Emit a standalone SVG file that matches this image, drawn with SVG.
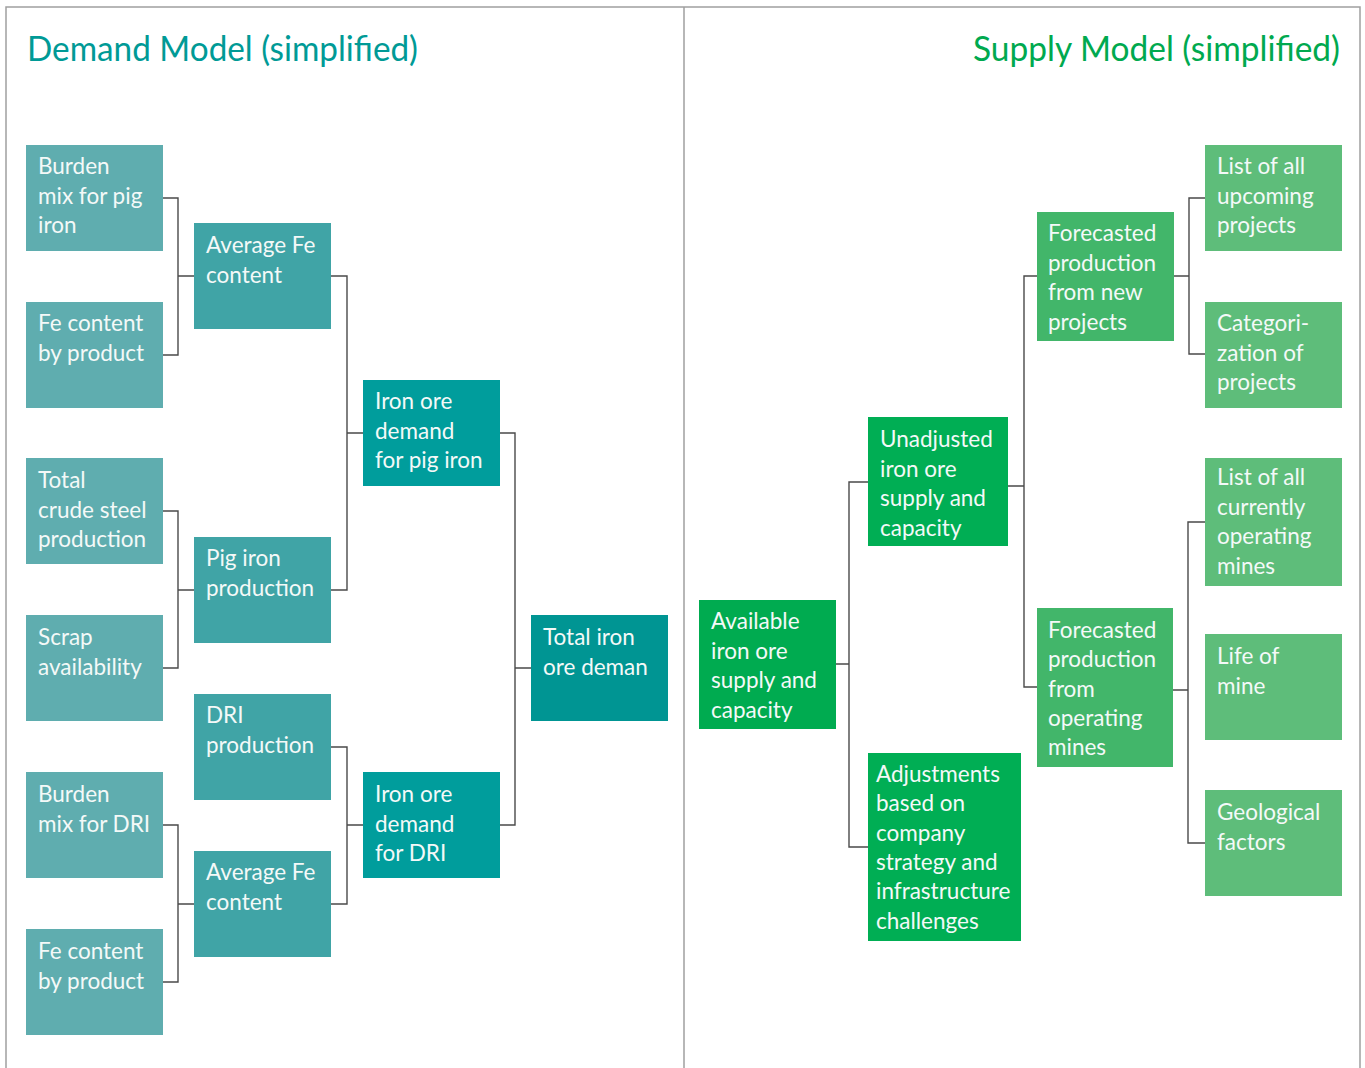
<svg xmlns="http://www.w3.org/2000/svg" width="1365" height="1068" viewBox="0 0 1365 1068">
<style>
text{font-family:Lato,"Source Sans Pro","Noto Sans",sans-serif;fill:#f4f9f8;font-size:22.5px}
.title{font-size:34px}
.d1{fill:#5fadaf}.d2{fill:#40a4a6}.d3{fill:#009d9c}.d4{fill:#009593}
.s1{fill:#00ab50}.s2{fill:#00ae54}.s3{fill:#42b66a}.s4{fill:#5ebd7a}
.frame{fill:none;stroke:#a0a0a0;stroke-width:1.5}
.conn path{fill:none;stroke:#4a4a4a;stroke-width:1.4}
</style>
<rect width="1365" height="1068" fill="#fff"/>
<g id="frame">
<path class="frame" d="M6,1068 V7 H1360 V1068 M684,7 V1068"/>
</g>
<text class="title" x="27" y="61" textLength="391" lengthAdjust="spacingAndGlyphs" style="fill:#009a96">Demand Model (simplified)</text>
<text class="title" x="973" y="61" textLength="367" lengthAdjust="spacingAndGlyphs" style="fill:#00a94f">Supply Model (simplified)</text>

<g class="conn" id="connectors">
<path d="M163,198 H178 V355 H163 M178,276 H194"/>
<path d="M163,511 H178 V668 H163 M178,590 H194"/>
<path d="M163,825 H178 V982 H163 M178,904 H194"/>
<path d="M331,276 H347 V590 H331 M347,433 H363"/>
<path d="M331,747 H347 V904 H331 M347,825 H363"/>
<path d="M500,433 H515 V825 H500 M515,668 H531"/>
<path d="M836,664 H849 M868,482 H849 V847 H868"/>
<path d="M1008,486 H1024 M1037,276 H1024 V687 H1037"/>
<path d="M1174,276 H1189 M1205,198 H1189 V354 H1205"/>
<path d="M1173,690 H1188 M1205,522 H1188 V843 H1205"/>
</g>

<g id="d-burden-pig"><rect class="d1" x="26" y="145" width="137" height="106"/><text x="38" y="174">Burden<tspan x="38" dy="29.5">mix for pig</tspan><tspan x="38" dy="29.5">iron</tspan></text></g>
<g id="d-fe-1"><rect class="d1" x="26" y="302" width="137" height="106"/><text x="38" y="331">Fe content<tspan x="38" dy="29.5">by product</tspan></text></g>
<g id="d-crude"><rect class="d1" x="26" y="458" width="137" height="106"/><text x="38" y="488">Total<tspan x="38" dy="29.5">crude steel</tspan><tspan x="38" dy="29.5">production</tspan></text></g>
<g id="d-scrap"><rect class="d1" x="26" y="615" width="137" height="106"/><text x="38" y="645">Scrap<tspan x="38" dy="29.5">availability</tspan></text></g>
<g id="d-burden-dri"><rect class="d1" x="26" y="772" width="137" height="106"/><text x="38" y="802">Burden<tspan x="38" dy="29.5">mix for DRI</tspan></text></g>
<g id="d-fe-2"><rect class="d1" x="26" y="929" width="137" height="106"/><text x="38" y="959">Fe content<tspan x="38" dy="29.5">by product</tspan></text></g>

<g id="d-avgfe-1"><rect class="d2" x="194" y="223" width="137" height="106"/><text x="206" y="253">Average Fe<tspan x="206" dy="29.5">content</tspan></text></g>
<g id="d-pig"><rect class="d2" x="194" y="537" width="137" height="106"/><text x="206" y="566">Pig iron<tspan x="206" dy="29.5">production</tspan></text></g>
<g id="d-dri"><rect class="d2" x="194" y="694" width="137" height="106"/><text x="206" y="723">DRI<tspan x="206" dy="29.5">production</tspan></text></g>
<g id="d-avgfe-2"><rect class="d2" x="194" y="851" width="137" height="106"/><text x="206" y="880">Average Fe<tspan x="206" dy="29.5">content</tspan></text></g>

<g id="d-demand-pig"><rect class="d3" x="363" y="380" width="137" height="106"/><text x="375" y="409">Iron ore<tspan x="375" dy="29.5">demand</tspan><tspan x="375" dy="29.5">for pig iron</tspan></text></g>
<g id="d-demand-dri"><rect class="d3" x="363" y="772" width="137" height="106"/><text x="375" y="802">Iron ore<tspan x="375" dy="29.5">demand</tspan><tspan x="375" dy="29.5">for DRI</tspan></text></g>
<g id="d-total"><rect class="d4" x="531" y="615" width="137" height="106"/><text x="543" y="645">Total iron<tspan x="543" dy="29.5">ore deman</tspan></text></g>

<g id="s-available"><rect class="s1" x="699" y="600" width="137" height="129"/><text x="711" y="629">Available<tspan x="711" dy="29.5">iron ore</tspan><tspan x="711" dy="29.5">supply and</tspan><tspan x="711" dy="29.5">capacity</tspan></text></g>
<g id="s-unadjusted"><rect class="s2" x="868" y="417" width="140" height="129"/><text x="880" y="447">Unadjusted<tspan x="880" dy="29.5">iron ore</tspan><tspan x="880" dy="29.5">supply and</tspan><tspan x="880" dy="29.5">capacity</tspan></text></g>
<g id="s-adjustments"><rect class="s2" x="868" y="753" width="153" height="188"/><text x="876" y="782">Adjustments<tspan x="876" dy="29.3">based on</tspan><tspan x="876" dy="29.3">company</tspan><tspan x="876" dy="29.3">strategy and</tspan><tspan x="876" dy="29.3">infrastructure</tspan><tspan x="876" dy="29.3">challenges</tspan></text></g>
<g id="s-new"><rect class="s3" x="1037" y="212" width="137" height="129"/><text x="1048" y="241">Forecasted<tspan x="1048" dy="29.5">production</tspan><tspan x="1048" dy="29.5">from new</tspan><tspan x="1048" dy="29.5">projects</tspan></text></g>
<g id="s-operating"><rect class="s3" x="1037" y="608" width="136" height="159"/><text x="1048" y="638">Forecasted<tspan x="1048" dy="29.3">production</tspan><tspan x="1048" dy="29.3">from</tspan><tspan x="1048" dy="29.3">operating</tspan><tspan x="1048" dy="29.3">mines</tspan></text></g>
<g id="s-upcoming"><rect class="s4" x="1205" y="145" width="137" height="106"/><text x="1217" y="174">List of all<tspan x="1217" dy="29.5">upcoming</tspan><tspan x="1217" dy="29.5">projects</tspan></text></g>
<g id="s-categorization"><rect class="s4" x="1205" y="302" width="137" height="106"/><text x="1217" y="331">Categori-<tspan x="1217" dy="29.5">zation of</tspan><tspan x="1217" dy="29.5">projects</tspan></text></g>
<g id="s-current"><rect class="s4" x="1205" y="458" width="137" height="128"/><text x="1217" y="485">List of all<tspan x="1217" dy="29.5">currently</tspan><tspan x="1217" dy="29.5">operating</tspan><tspan x="1217" dy="29.5">mines</tspan></text></g>
<g id="s-life"><rect class="s4" x="1205" y="634" width="137" height="106"/><text x="1217" y="664">Life of<tspan x="1217" dy="29.5">mine</tspan></text></g>
<g id="s-geo"><rect class="s4" x="1205" y="790" width="137" height="106"/><text x="1217" y="820">Geological<tspan x="1217" dy="29.5">factors</tspan></text></g>
</svg>
